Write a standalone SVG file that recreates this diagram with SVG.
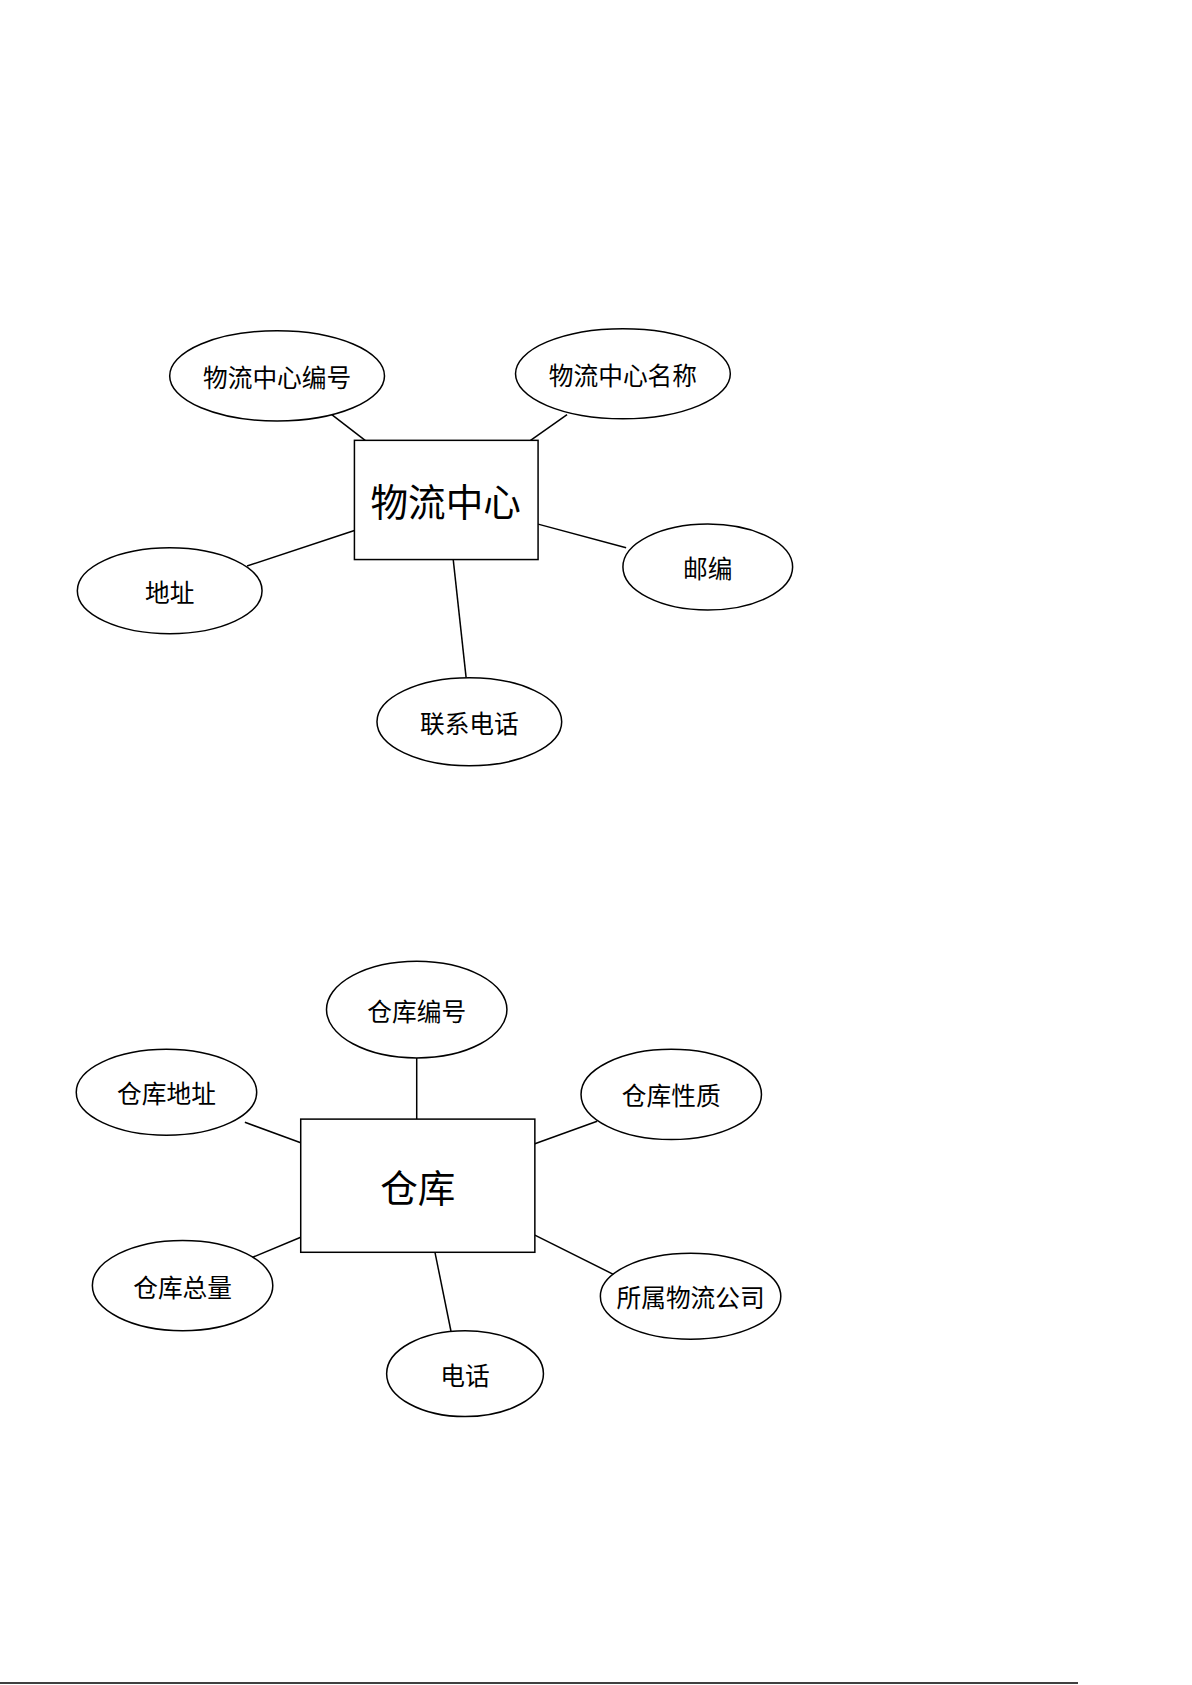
<svg xmlns="http://www.w3.org/2000/svg" width="1192" height="1685" viewBox="0 0 1192 1685">
<style>
.s{fill:#fff;stroke:#000;stroke-width:1.4}
.c line{stroke:#000;stroke-width:1.4}
text{font-family:"Noto Sans CJK SC",sans-serif;text-anchor:middle;dominant-baseline:central;fill:#000}
.t{font-size:23px}
.b{font-size:35px}
</style>
<rect width="1192" height="1685" fill="#fff"/>
<line x1="0" y1="1683" x2="1078" y2="1683" stroke="#000" stroke-width="1.5"/>
<g transform="scale(1.074)">
<g class="c">
<line x1="340" y1="410" x2="305" y2="383"/>
<line x1="494" y1="410" x2="528" y2="386"/>
<line x1="330" y1="494" x2="230" y2="527"/>
<line x1="501" y1="488" x2="583" y2="510"/>
<line x1="422" y1="521" x2="434" y2="631"/>
<line x1="388" y1="985" x2="388" y2="1042"/>
<line x1="228" y1="1045" x2="280" y2="1064"/>
<line x1="498" y1="1065" x2="556" y2="1044"/>
<line x1="280" y1="1152" x2="232" y2="1172"/>
<line x1="498" y1="1150" x2="572" y2="1187"/>
<line x1="405" y1="1166" x2="420" y2="1240"/>
</g>
<g id="n1"><ellipse class="s" cx="258" cy="350" rx="100" ry="42"/><text class="t" x="258" y="350">物流中心编号</text></g>
<g id="n2"><ellipse class="s" cx="580" cy="348" rx="100" ry="42"/><text class="t" x="580" y="348">物流中心名称</text></g>
<g id="n3"><rect class="s" x="330" y="410" width="171" height="111"/><text class="b" x="415" y="465">物流中心</text></g>
<g id="n4"><ellipse class="s" cx="158" cy="550" rx="86" ry="40"/><text class="t" x="158" y="550">地址</text></g>
<g id="n5"><ellipse class="s" cx="659" cy="528" rx="79" ry="40"/><text class="t" x="659" y="528">邮编</text></g>
<g id="n6"><ellipse class="s" cx="437" cy="672" rx="86" ry="41"/><text class="t" x="437" y="672">联系电话</text></g>
<g id="m1"><ellipse class="s" cx="388" cy="940" rx="84" ry="45"/><text class="t" x="388" y="940">仓库编号</text></g>
<g id="m2"><ellipse class="s" cx="155" cy="1017" rx="84" ry="40"/><text class="t" x="155" y="1017">仓库地址</text></g>
<g id="m3"><ellipse class="s" cx="625" cy="1019" rx="84" ry="42"/><text class="t" x="625" y="1019">仓库性质</text></g>
<g id="m4"><rect class="s" x="280" y="1042" width="218" height="124"/><text class="b" x="389" y="1104">仓库</text></g>
<g id="m5"><ellipse class="s" cx="170" cy="1197" rx="84" ry="42"/><text class="t" x="170" y="1197">仓库总量</text></g>
<g id="m6"><ellipse class="s" cx="433" cy="1279" rx="73" ry="40"/><text class="t" x="433" y="1279">电话</text></g>
<g id="m7"><ellipse class="s" cx="643" cy="1207" rx="84" ry="40"/><text class="t" x="643" y="1207">所属物流公司</text></g>
</g>
</svg>
